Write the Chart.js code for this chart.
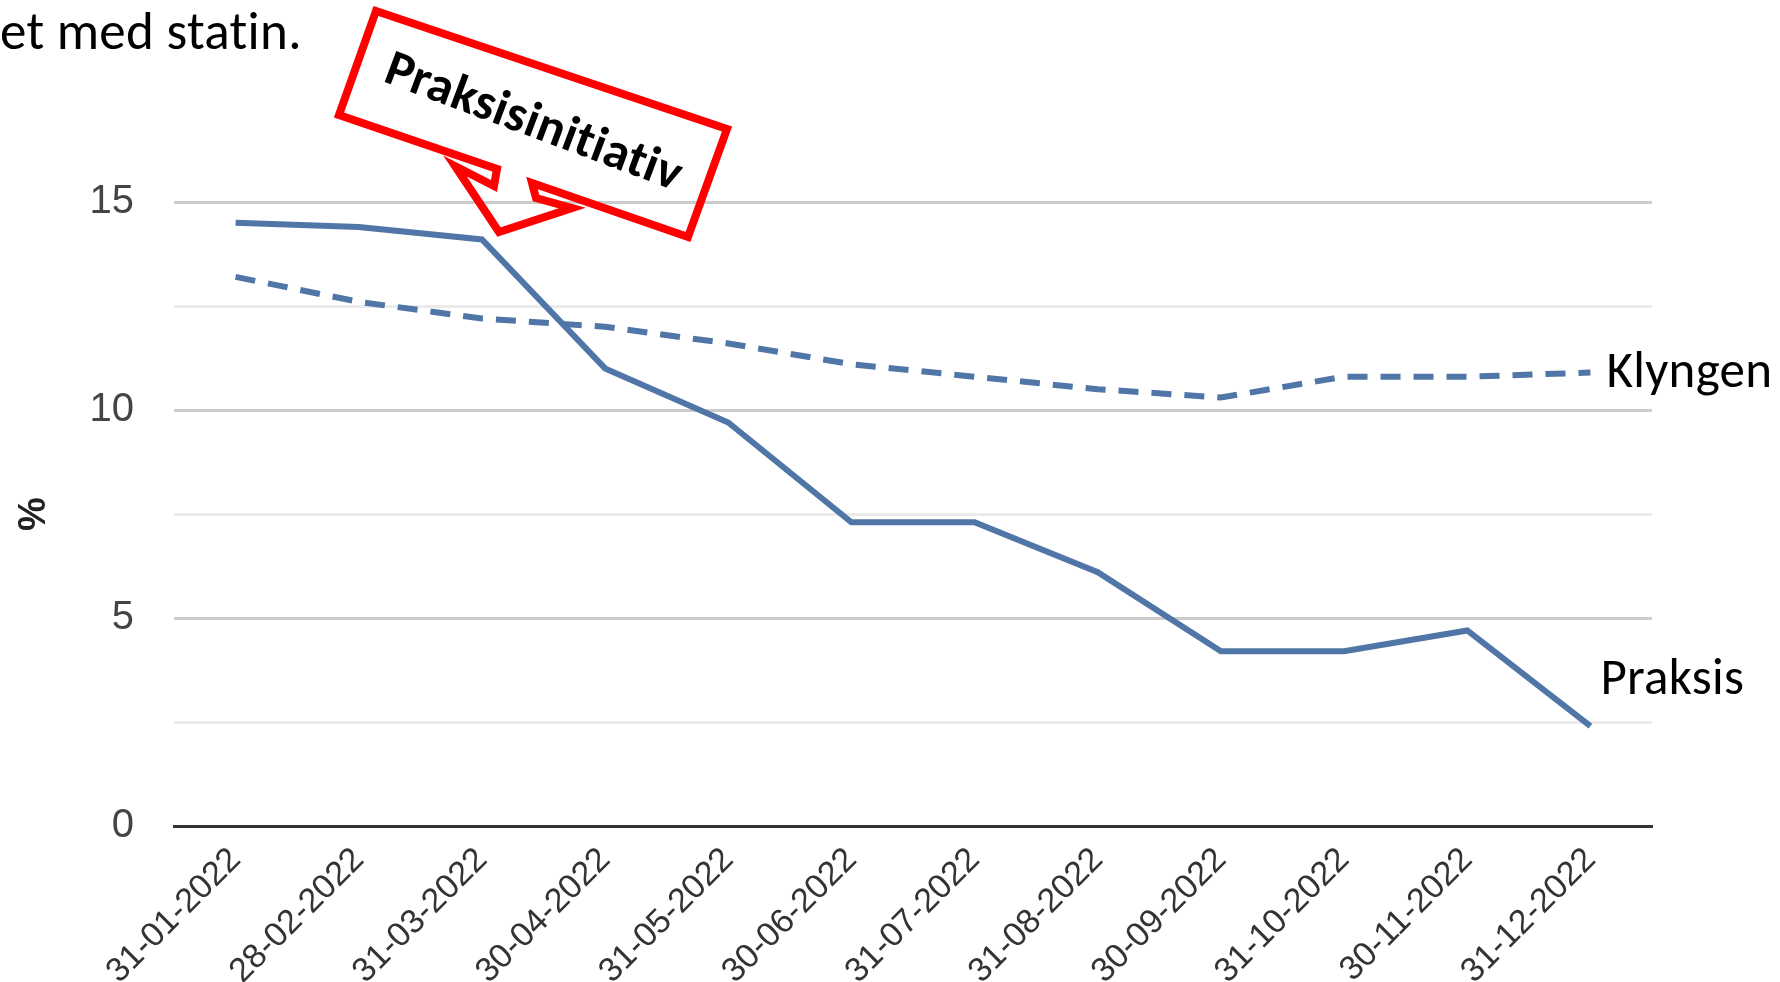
<!DOCTYPE html>
<html>
<head>
<meta charset="utf-8">
<script src="https://cdn.jsdelivr.net/npm/chart.js@4.4.1/dist/chart.umd.min.js"></script>
<style>
  html, body { margin: 0; padding: 0; background: #fff; }
  canvas { display: block; }
</style>
</head>
<body>
<canvas id="chart" width="1780" height="982"></canvas>
<script>
// Data
const categories = ['31-01-2022', '28-02-2022', '31-03-2022', '30-04-2022', '31-05-2022', '30-06-2022',
                    '31-07-2022', '31-08-2022', '30-09-2022', '31-10-2022', '30-11-2022', '31-12-2022'];
const praksis = [14.5, 14.4, 14.1, 11.0, 9.7, 7.3, 7.3, 6.1, 4.2, 4.2, 4.7, 2.4];
const klyngen = [13.2, 12.6, 12.2, 12.0, 11.6, 11.1, 10.8, 10.5, 10.3, 10.8, 10.8, 10.9];
const yLabels = [0, 5, 10, 15];
const seriesNames = ['Praksis', 'Klyngen'];
const headerText = 'et med statin.';
const calloutText = 'Praksisinitiativ';

const lineColor = '#4f76a6';
const labelFont = 'Carlito, Lato, sans-serif';

// Series names at the end of each line, callout and the cut header text
const annotations = {
    id: 'annotations',
    afterDraw(chart) {
        const ctx = chart.ctx;
        ctx.save();
        ctx.letterSpacing = '0.3px'; // no "ti" ligature

        // header text, cut at the left edge
        ctx.fillStyle = '#000';
        ctx.font = '53px ' + labelFont;
        ctx.textAlign = 'left';
        ctx.textBaseline = 'middle';
        ctx.fillText(headerText, 0, 36);

        // series labels next to last points
        const lastP = chart.getDatasetMeta(0).data[praksis.length - 1];
        const lastK = chart.getDatasetMeta(1).data[klyngen.length - 1];
        ctx.font = '51px ' + labelFont;
        ctx.fillText(seriesNames[1], lastK.x + 16, lastK.y + 2);
        ctx.fillText(seriesNames[0], lastP.x + 10, lastP.y - 45);

        // callout box with pointer
        const shape = [[376, 11], [727, 129], [688, 237], [532, 183], [536, 198], [572, 208],
                       [499, 232], [455, 166], [494, 186], [497, 169], [339, 115]];
        ctx.beginPath();
        shape.forEach((p, i) => i ? ctx.lineTo(p[0], p[1]) : ctx.moveTo(p[0], p[1]));
        ctx.closePath();
        ctx.strokeStyle = '#ff0000';
        ctx.lineWidth = 8;
        ctx.lineJoin = 'miter';
        ctx.stroke();

        ctx.translate(533, 124);
        ctx.rotate(20.5 * Math.PI / 180);
        ctx.font = 'bold 51px ' + labelFont;
        ctx.textAlign = 'center';
        ctx.fillText(calloutText, 0, 0);
        ctx.restore();
    }
};

new Chart(document.getElementById('chart'), {
    type: 'line',
    data: {
        labels: categories,
        datasets: [{
            label: seriesNames[0],
            data: praksis,
            borderColor: lineColor,
            borderWidth: 6,
            pointRadius: 0,
            tension: 0
        }, {
            label: seriesNames[1],
            data: klyngen,
            borderColor: lineColor,
            borderWidth: 6,
            borderDash: [20, 13],
            pointRadius: 0,
            tension: 0
        }]
    },
    options: {
        responsive: false,
        animation: false,
        layout: { padding: { left: 0, top: 202, right: 128, bottom: 0 } },
        plugins: { legend: { display: false }, tooltip: { enabled: false } },
        scales: {
            x: {
                offset: true,
                grid: { display: false },
                border: { color: '#333', width: 3 },
                ticks: {
                    color: '#333',
                    font: { family: 'Liberation Sans, Arial', size: 34 },
                    minRotation: 45,
                    maxRotation: 45,
                    padding: 6
                },
                afterFit(scale) { scale.height = 156; }
            },
            y: {
                min: 0,
                max: 15,
                border: { display: false },
                grid: {
                    drawTicks: false,
                    lineWidth: 3,
                    color: c => {
                        const v = c.tick ? c.tick.value : 0;
                        if (v === 0) return '#333';
                        return yLabels.includes(v) ? '#cccccc' : '#ebebeb';
                    }
                },
                ticks: {
                    stepSize: 2.5,
                    padding: 40,
                    color: '#444',
                    font: { family: 'Liberation Sans, Arial', size: 40 },
                    callback: v => yLabels.includes(v) ? String(v) : ''
                },
                title: {
                    display: true,
                    text: '%',
                    color: '#222',
                    font: { family: 'Liberation Sans, Arial', size: 38, weight: 'bold' },
                    padding: { top: 12, bottom: 0 }
                },
                afterFit(scale) { scale.width = 174; }
            }
        }
    },
    plugins: [annotations]
});
</script>
</body>
</html>
